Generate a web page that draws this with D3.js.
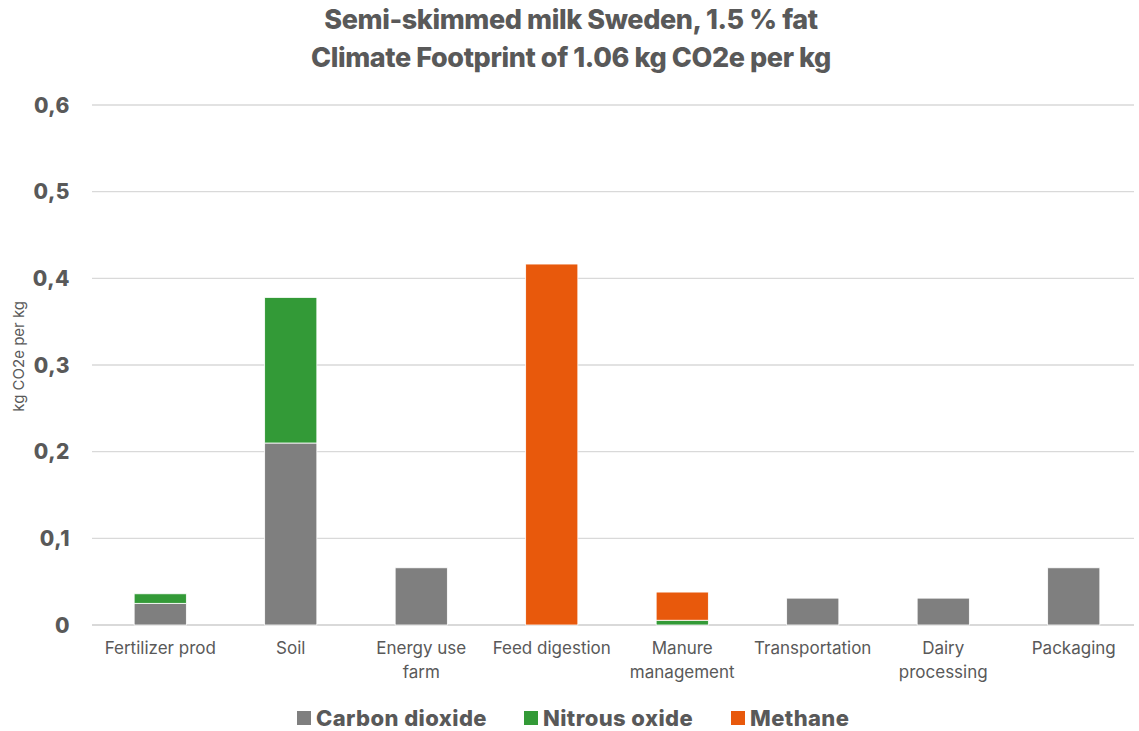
<!DOCTYPE html>
<html>
<head>
<meta charset="utf-8">
<script src="https://cdn.jsdelivr.net/npm/d3@7"></script>
<style>
  html, body { margin: 0; padding: 0; background: #fff; }
  svg { display: block; font-family: Inter, "Open Sans", sans-serif; }
</style>
</head>
<body>
<div id="chart"></div>
<script>
// ---------- Data ----------
const categories = ["Fertilizer prod", "Soil", "Energy use farm", "Feed digestion",
  "Manure management", "Transportation", "Dairy processing", "Packaging"];
const categoryLines = [["Fertilizer prod"], ["Soil"], ["Energy use", "farm"], ["Feed digestion"],
  ["Manure", "management"], ["Transportation"], ["Dairy", "processing"], ["Packaging"]];

const seriesNames = ["Carbon dioxide", "Nitrous oxide", "Methane"];
const seriesColors = ["#7f7f7f", "#339a37", "#e8590c"];

const carbonDioxide = [0.025, 0.210, 0.066, 0, 0, 0.031, 0.031, 0.066];
const nitrousOxide  = [0.011, 0.168, 0, 0, 0.0055, 0, 0, 0];
const methane       = [0, 0, 0, 0.4165, 0.0325, 0, 0, 0];

const yTicks = [0, 0.1, 0.2, 0.3, 0.4, 0.5, 0.6];
const titleLines = ["Semi-skimmed milk Sweden, 1.5 % fat", "Climate Footprint of 1.06 kg CO2e per kg"];
const yLabel = "kg CO2e per kg";

// ---------- Layout ----------
const W = 1139, H = 731;
const margin = { top: 105, right: 0, bottom: 106, left: 95 };
const textCol = "#595959";

const svg = d3.select("#chart").append("svg")
  .attr("width", W).attr("height", H);

const rows = categories.map((c, i) => ({
  cat: c,
  "Carbon dioxide": carbonDioxide[i],
  "Nitrous oxide": nitrousOxide[i],
  "Methane": methane[i]
}));
const stacked = d3.stack().keys(seriesNames)(rows);

const x = d3.scaleBand()
  .domain(categories)
  .range([margin.left, W - margin.right])
  .paddingInner(0.6).paddingOuter(0.3);

const y = d3.scaleLinear()
  .domain([0, 0.6])
  .range([H - margin.bottom, margin.top]);

const color = d3.scaleOrdinal().domain(seriesNames).range(seriesColors);

// ---------- Grid ----------
svg.append("g")
  .selectAll("line")
  .data(yTicks)
  .join("line")
  .attr("x1", 92).attr("x2", 1134)
  .attr("y1", d => y(d)).attr("y2", d => y(d))
  .attr("stroke", "#d9d9d9")
  .attr("stroke-width", d => d === 0 ? 2 : 1.3);

// y tick labels
svg.append("g")
  .selectAll("text")
  .data(yTicks)
  .join("text")
  .attr("x", 70)
  .attr("y", d => y(d))
  .attr("dy", "0.36em")
  .attr("text-anchor", "end")
  .attr("fill", textCol)
  .style("font-size", "21px")
  .style("font-weight", 800)
  .style("letter-spacing", "0.5px")
  .text(d => d === 0 ? "0" : d3.format(".1f")(d).replace(".", ","));

// y axis label
svg.append("text")
  .attr("transform", `translate(24,${y(0.31)}) rotate(-90)`)
  .attr("text-anchor", "middle")
  .attr("fill", textCol)
  .style("font-size", "15px")
  .text(yLabel);

// ---------- Bars ----------
svg.append("g")
  .selectAll("g")
  .data(stacked)
  .join("g")
  .attr("fill", d => color(d.key))
  .selectAll("rect")
  .data(d => d.filter(s => s[1] - s[0] > 0))
  .join("rect")
  .attr("x", d => x(d.data.cat))
  .attr("width", x.bandwidth())
  .attr("y", d => y(d[1]))
  .attr("height", d => y(d[0]) - y(d[1]))
  .attr("stroke", "#fff")
  .attr("stroke-width", 0.8);

// ---------- x labels ----------
svg.append("g")
  .selectAll("text")
  .data(categories)
  .join("text")
  .attr("x", d => x(d) + x.bandwidth() / 2)
  .attr("y", 654)
  .attr("text-anchor", "middle")
  .attr("fill", textCol)
  .style("font-size", "17px")
  .each(function (d, i) {
    d3.select(this).selectAll("tspan")
      .data(categoryLines[i])
      .join("tspan")
      .attr("x", x(d) + x.bandwidth() / 2)
      .attr("dy", (l, j) => j === 0 ? 0 : 24)
      .text(l => l);
  });

// ---------- Title ----------
svg.append("g")
  .selectAll("text")
  .data(titleLines)
  .join("text")
  .attr("x", 571)
  .attr("y", (d, i) => 29 + i * 38)
  .attr("text-anchor", "middle")
  .attr("fill", textCol)
  .style("font-size", "27px")
  .style("font-weight", 800)
  .style("letter-spacing", "-0.4px")
  .text(d => d);

// ---------- Legend ----------
const legendX = [297, 524, 731];
const lg = svg.append("g")
  .selectAll("g")
  .data(seriesNames)
  .join("g")
  .attr("transform", (d, i) => `translate(${legendX[i]},718)`);

lg.append("rect")
  .attr("x", 0).attr("y", -7)
  .attr("width", 14).attr("height", 14)
  .attr("fill", d => color(d));

lg.append("text")
  .attr("x", 19)
  .attr("dy", "0.36em")
  .attr("fill", textCol)
  .style("font-size", "22px")
  .style("font-weight", 800)
  .style("letter-spacing", "0.4px")
  .text(d => d);
</script>
</body>
</html>
